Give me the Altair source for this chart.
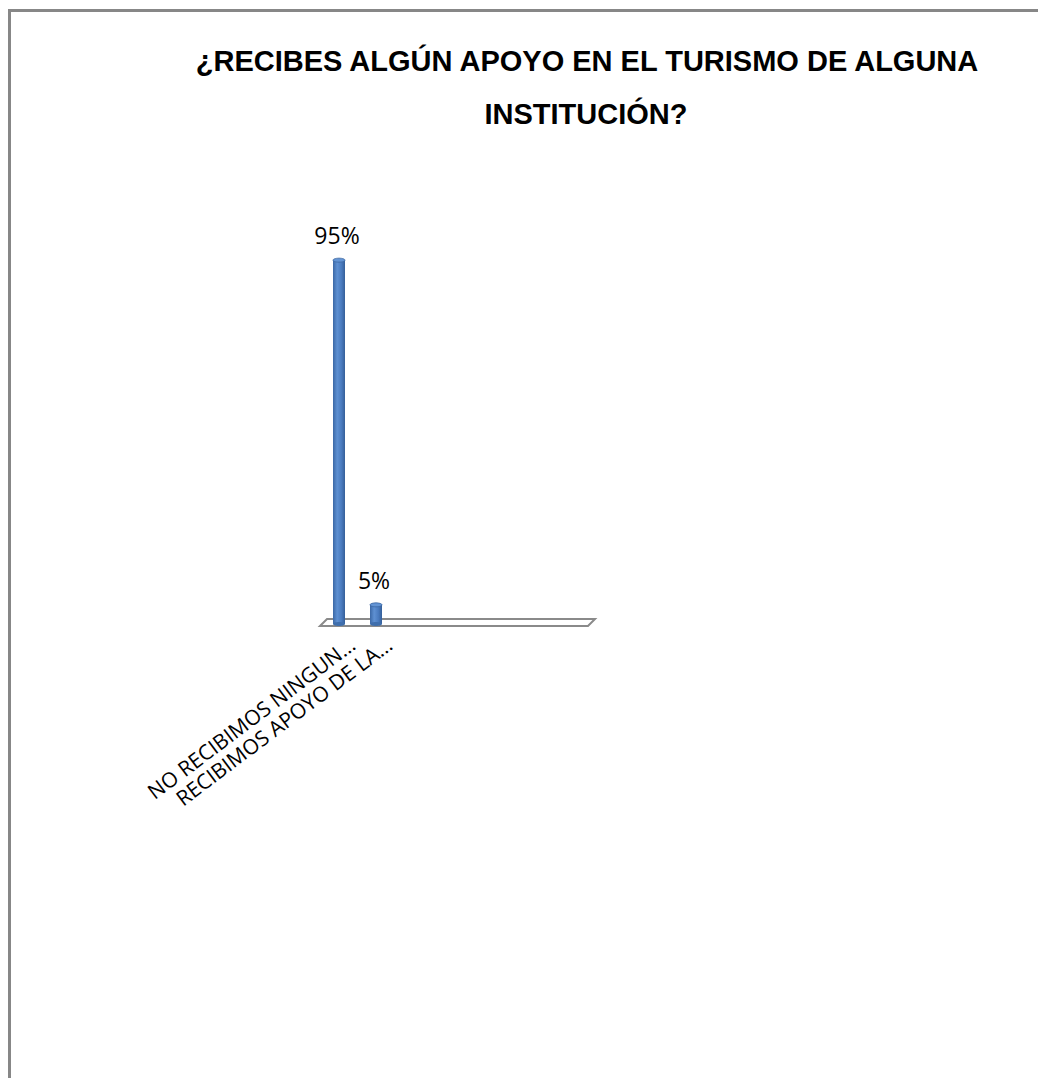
import altair as alt
import pandas as pd

# ---- data ----
categories = ["NO RECIBIMOS NINGUN…", "RECIBIMOS APOYO DE LA…"]
values = [95, 5]
value_labels = ["95%", "5%"]
title_lines = ["¿RECIBES ALGÚN APOYO EN EL TURISMO DE ALGUNA", "INSTITUCIÓN?"]

# ---- layout (plot area = the framed picture) ----
W, H = 1030, 1070
FLOOR_Y = 616
TOP_Y = 233
FRAME = "#878787"

df = pd.DataFrame({"category": categories, "value": values, "label": value_labels})

x_scale = alt.Scale(range=[312.5, 386.5], paddingInner=0, paddingOuter=0)
y_scale = alt.Scale(domain=[0, 100], range=[FLOOR_Y, TOP_Y])

x_plain = alt.X("category:N", sort=categories, scale=x_scale, axis=None)
y_val = alt.Y("value:Q", scale=y_scale, axis=None)
y_zero = alt.Y("zero:Q", scale=y_scale, axis=None)

ELLIPSE = "M-1,0 A1,0.33 0 1,0 1,0 A1,0.33 0 1,0 -1,0 Z"
FLOOR = "M-1,0.0145 L-0.949,-0.0364 L1,-0.0364 L0.949,0.0145 Z"

gradient = {
    "gradient": "linear", "x1": 0, "x2": 1, "y1": 0, "y2": 0,
    "stops": [
        {"offset": 0, "color": "#3b68a6"},
        {"offset": 0.35, "color": "#5e90d2"},
        {"offset": 0.7, "color": "#4a7bbf"},
        {"offset": 1, "color": "#355f99"},
    ],
}

one = pd.DataFrame({"v": [0]})

frame_left = alt.Chart(one).mark_rule(color=FRAME, strokeWidth=3).encode(
    x=alt.value(1.5), y=alt.value(1), y2=alt.value(H)
)
frame_top = alt.Chart(one).mark_rule(color=FRAME, strokeWidth=3).encode(
    y=alt.value(2.5), x=alt.value(0), x2=alt.value(W)
)

title1 = alt.Chart(one).mark_text(
    text=title_lines[0], font="Liberation Sans", fontWeight="bold", fontSize=29,
    align="center", baseline="alphabetic", color="#000000",
).encode(x=alt.value(579), y=alt.value(63))
title2 = alt.Chart(one).mark_text(
    text=title_lines[1], font="Liberation Sans", fontWeight="bold", fontSize=29,
    align="center", baseline="alphabetic", color="#000000",
).encode(x=alt.value(578), y=alt.value(116))

floor = alt.Chart(one).mark_point(
    shape=FLOOR, size=275 * 275, filled=True, fill="#ffffff",
    stroke="#8a8a8a", strokeWidth=2, opacity=1,
).encode(x=alt.value(449.5), y=alt.Y("v:Q", scale=y_scale, axis=None))

base = alt.Chart(df).transform_calculate(zero="0")

bars = base.mark_bar(size=12, color=gradient).encode(x=x_plain, y=y_val)

bottom_ell = base.mark_point(
    shape=ELLIPSE, size=144, filled=True, fill="#3f6eac", strokeWidth=0, opacity=1,
).encode(x=x_plain, y=y_zero)

top_ell = base.mark_point(
    shape=ELLIPSE, size=144, filled=True, fill="#6394d4",
    stroke="#3a659f", strokeWidth=0.8, opacity=1,
).encode(x=x_plain, y=y_val)

texts = base.mark_text(
    font="Open Sans", fontSize=23, dy=-16, dx=-2, baseline="alphabetic",
    align="center", color="#000000",
).encode(x=x_plain, y=y_val, text="label:N")

cat_labels = base.mark_text(
    font="Open Sans", fontSize=21, angle=323, align="right", baseline="middle",
    dx=0, dy=24, color="#000000",
).encode(x=x_plain, y=y_zero, text="category:N")

chart = alt.layer(
    frame_left, frame_top, title1, title2, floor, bars, bottom_ell, top_ell,
    texts, cat_labels,
).properties(
    width=W, height=H, padding=0, autosize=alt.AutoSizeParams(type="none"),
    background="#ffffff",
).configure_view(strokeWidth=0)

chart.save("out.html", embed_options={"renderer": "svg", "actions": False})
